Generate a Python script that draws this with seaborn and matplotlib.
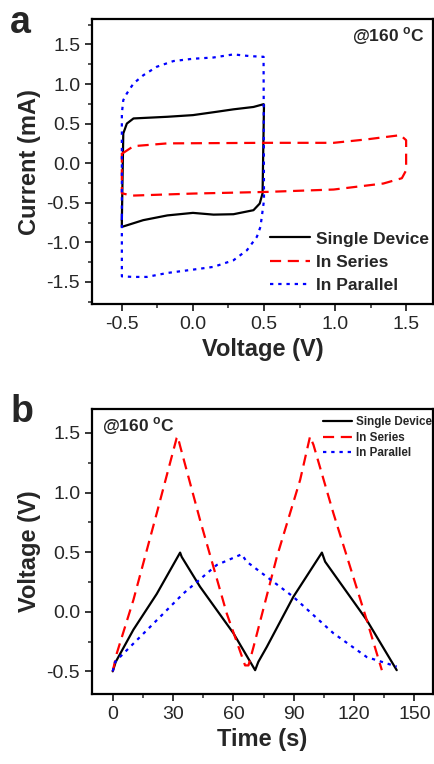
import matplotlib
matplotlib.use('Agg')
import matplotlib.pyplot as plt
import seaborn as sns
from matplotlib.ticker import MultipleLocator

# ---- panel a: cyclic voltammetry loops ----
single_v = [-0.5, -0.49, -0.465, -0.418, -0.18, 0.0, 0.17, 0.285, 0.426, 0.497, 0.5,
            0.49, 0.47, 0.426, 0.285, 0.145, 0.0, -0.18, -0.35, -0.5, -0.5, -0.5]
single_i = [-0.72, 0.375, 0.50, 0.565, 0.586, 0.607, 0.65, 0.68, 0.71, 0.745, 0.74,
            -0.38, -0.51, -0.594, -0.645, -0.65, -0.628, -0.66, -0.72, -0.805, -0.72, -0.72]

series_v = [-0.5, -0.49, -0.418, -0.18, 0.52, 0.99, 1.22, 1.46, 1.5, 1.5, 1.47, 1.34,
            0.99, 0.52, 0.0, -0.43, -0.5, -0.5]
series_i = [0.13, 0.13, 0.215, 0.25, 0.257, 0.257, 0.30, 0.354, 0.29, -0.09, -0.19, -0.257,
            -0.333, -0.363, -0.384, -0.41, -0.38, 0.13]

parallel_v = [-0.5, -0.5, -0.49, -0.465, -0.418, -0.348, -0.254, -0.137, 0.0, 0.145, 0.285,
              0.403, 0.497, 0.5, 0.475, 0.45, 0.38, 0.285, 0.145, 0.0, -0.18, -0.324, -0.418,
              -0.5, -0.5]
parallel_i = [-0.68, 0.627, 0.796, 0.88, 1.007, 1.112, 1.218, 1.29, 1.319, 1.335, 1.374,
              1.352, 1.344, -0.47, -0.805, -0.93, -1.1, -1.227, -1.31, -1.345, -1.387, -1.437,
              -1.437, -1.43, -0.68]

# ---- panel b: galvanostatic charge/discharge ----
single_t = [0, 1.5, 10.3, 21.9, 33.5, 34.3, 43.4, 60.0, 70.8, 72.4, 76.6, 89.8, 104.0,
            105.6, 126.3, 141.2]
single_u = [-0.5, -0.42, -0.15, 0.15, 0.496, 0.46, 0.21, -0.18, -0.49, -0.42, -0.295,
            0.125, 0.496, 0.42, -0.07, -0.49]

series_t = [0, 2.0, 10.3, 21.9, 31.8, 32.3, 33.5, 43.4, 56.7, 65.8, 67.5, 70.0, 81.6,
            93.2, 98.1, 99.8, 109.7, 126.3, 133.8]
series_u = [-0.5, -0.35, 0.1, 0.827, 1.458, 1.47, 1.39, 0.77, -0.015, -0.45, -0.45, -0.295,
            0.46, 1.107, 1.47, 1.40, 0.827, -0.07, -0.49]

parallel_t = [0, 1.2, 18.6, 35.1, 51.7, 64.1, 66.6, 89.8, 109.7, 126.3, 141.2]
parallel_u = [-0.5, -0.42, -0.127, 0.153, 0.392, 0.482, 0.42, 0.125, -0.18, -0.38, -0.46]

labels = ['Single Device', 'In Series', 'In Parallel']
colors = ['black', '#ff0000', '#0000ff']
dash_styles = ['-', (0, (5, 3)), (0, (1.5, 2.2))]

sns.set_style('ticks')
plt.rcParams['font.family'] = ['Liberation Sans', 'DejaVu Sans']
plt.rcParams['axes.unicode_minus'] = False
plt.rcParams['mathtext.fontset'] = 'custom'
plt.rcParams['mathtext.rm'] = 'Liberation Sans'
plt.rcParams['mathtext.bf'] = 'Liberation Sans:bold'

fig = plt.figure(figsize=(4.34, 7.64), dpi=100)
ax1 = fig.add_axes([0.212, 0.602, 0.786, 0.373])
ax2 = fig.add_axes([0.212, 0.0916, 0.786, 0.373])


def draw(ax, xs, ys):
    for x, y, lab, c, ls in zip(xs, ys, labels, colors, dash_styles):
        sns.lineplot(x=x, y=y, sort=False, estimator=None, color=c, lw=1.6,
                     label=lab, ax=ax)
        ax.lines[-1].set_linestyle(ls)


draw(ax1, [single_v, series_v, parallel_v], [single_i, series_i, parallel_i])
draw(ax2, [single_t, series_t, parallel_t], [single_u, series_u, parallel_u])

for ax in (ax1, ax2):
    for s in ax.spines.values():
        s.set_visible(True)
        s.set_linewidth(1.6)
        s.set_color('black')
    ax.tick_params(which='major', direction='out', length=5, width=1.3,
                   labelsize=14, top=False, right=False)
    ax.tick_params(which='minor', direction='out', length=3, width=1.1,
                   top=False, right=False)
    ax.yaxis.set_minor_locator(MultipleLocator(0.25))

ax1.set_xlim(-0.71, 1.69)
ax1.set_ylim(-1.78, 1.82)
ax1.xaxis.set_major_locator(MultipleLocator(0.5))
ax1.xaxis.set_minor_locator(MultipleLocator(0.25))
ax1.yaxis.set_major_locator(MultipleLocator(0.5))
ax1.set_xlabel('Voltage (V)', fontsize=17, fontweight='bold')
ax1.set_ylabel('Current (mA)', fontsize=17, fontweight='bold')
ax1.text(0.975, 0.94, r'@160 $^{\mathbf{o}}$C', transform=ax1.transAxes, ha='right',
         va='center', fontsize=12.5, fontweight='bold')
ax1.legend(loc='upper left', bbox_to_anchor=(0.522, 0.255), frameon=False,
           borderpad=0, borderaxespad=0,
           prop={'weight': 'bold', 'size': 12.5}, handlelength=2.3, handletextpad=0.35,
           labelspacing=0.47)

ax2.set_xlim(-10.3, 159.3)
ax2.set_ylim(-0.69, 1.70)
ax2.xaxis.set_major_locator(MultipleLocator(30))
ax2.xaxis.set_minor_locator(MultipleLocator(15))
ax2.yaxis.set_major_locator(MultipleLocator(0.5))
ax2.set_xlabel('Time (s)', fontsize=17, fontweight='bold')
ax2.set_ylabel('Voltage (V)', fontsize=17, fontweight='bold')
ax2.text(0.03, 0.94, r'@160 $^{\mathbf{o}}$C', transform=ax2.transAxes, ha='left',
         va='center', fontsize=12.5, fontweight='bold')
ax2.legend(loc='upper left', bbox_to_anchor=(0.678, 0.975), frameon=False,
           borderpad=0, borderaxespad=0,
           prop={'weight': 'bold', 'size': 8.4}, handlelength=2.5, handletextpad=0.3,
           labelspacing=0.3)

fig.text(0.023, 0.957, 'a', fontsize=27, fontweight='bold', va='baseline')
fig.text(0.025, 0.448, 'b', fontsize=27, fontweight='bold', va='baseline')

fig.savefig('out.png', dpi=100)
